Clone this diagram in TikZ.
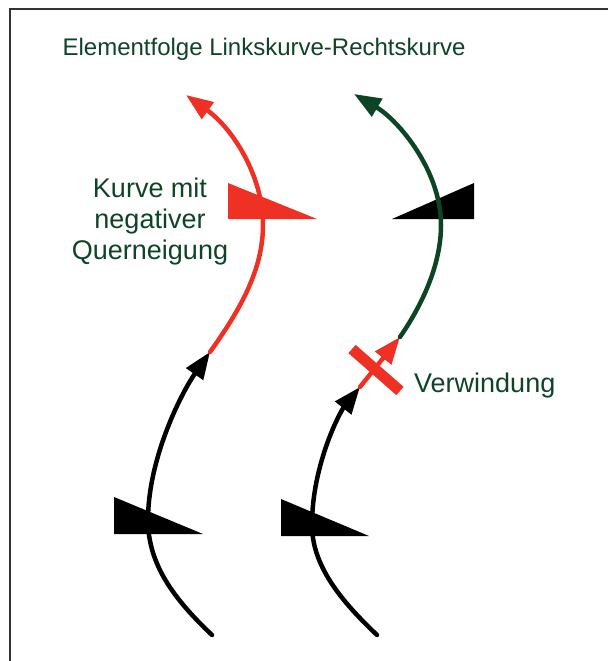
\documentclass[tikz,border=0pt]{standalone}
\usepackage{fontspec}
\setmainfont{Liberation Sans}
\usetikzlibrary{arrows.meta}
\definecolor{rot}{RGB}{238,49,36}
\definecolor{gruen}{RGB}{14,68,38}

\begin{document}
\begin{tikzpicture}[x=1pt,y=-1pt,
    bahn/.style={line width=4.5pt,line cap=round},
    pfeil/.style={-{Triangle[length=27pt,width=20pt]}},
    schrift/.style={text=gruen,font=\fontsize{27}{31}\selectfont,inner sep=0pt}]
  \useasboundingbox (0,0) rectangle (608,661);
  \draw[line width=2pt,black!80] (608,9) -- (10,9) -- (10,661);

  \node[schrift,font=\fontsize{24}{29}\selectfont,anchor=base] (titel) at (264,56)
    {Elementfolge Linkskurve-Rechtskurve};

  % Linkskurve -> Rechtskurve mit negativer Querneigung
  \coordinate (a0) at (212,635);
  \coordinate (a1) at (148,520);
  \coordinate (a2) at (210,352);
  \coordinate (a3) at (263,225);
  \coordinate (a4) at (186,95);
  \fill (114,497) -- (114,534) -- (203,534) -- cycle;
  \fill[rot] (228,183) -- (228,219) -- (317,219) -- cycle;
  \draw[bahn,pfeil] (a0) .. controls (175,600) and (148,565) .. (a1)
    .. controls (148,460) and (180,395) .. (a2);
  \draw[bahn,pfeil,rot] (a2) .. controls (240,310) and (263,270) .. (a3)
    .. controls (263,175) and (232,128) .. (a4);
  \node[schrift,align=center] (kurve) at (150,222) {Kurve mit\\negativer\\Querneigung};

  % Linkskurve -> Rechtskurve mit Verwindung
  \coordinate (b0) at (377,635);
  \coordinate (b1) at (312,525);
  \coordinate (b2) at (360,387);
  \coordinate (b3) at (400,337);
  \coordinate (b4) at (441,225);
  \coordinate (b5) at (354,94);
  \coordinate (x1) at (352,349);
  \coordinate (x2) at (400,391);
  \fill (281,499) -- (281,536) -- (369,536) -- cycle;
  \fill (474,183) -- (474,219) -- (392,219) -- cycle;
  \draw[bahn,pfeil] (b0) .. controls (340,600) and (312,565) .. (b1)
    .. controls (312,465) and (340,412) .. (b2);
  \draw[bahn,pfeil,rot] (b2) -- (b3);
  \draw[bahn,pfeil,gruen] (b3) .. controls (422,305) and (441,265) .. (b4)
    .. controls (441,170) and (398,120) .. (b5);
  \draw[rot,line width=11pt] (x1) -- (x2);
  \node[schrift,anchor=base west] (verw) at (414,392) {Verwindung};
\end{tikzpicture}
\end{document}
